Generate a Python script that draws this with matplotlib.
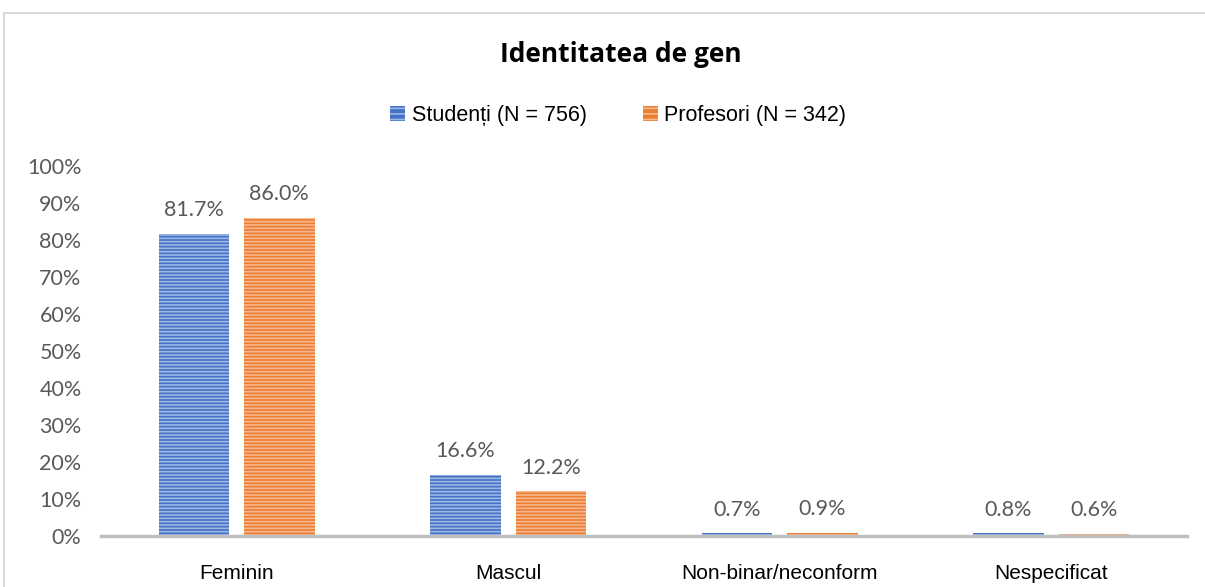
import matplotlib
matplotlib.use('Agg')
import matplotlib.pyplot as plt
from matplotlib.patches import Rectangle, Patch
import numpy as np

categories = ['Feminin', 'Mascul', 'Non-binar/neconform', 'Nespecificat']
studenti = [81.7, 16.6, 0.7, 0.8]
profesori = [86.0, 12.2, 0.9, 0.6]
series_names = ['Studenți (N = 756)', 'Profesori (N = 342)']
yticks = np.arange(0, 101, 10)

blue, orange = '#4472C4', '#ED7D31'
plt.rcParams['hatch.linewidth'] = 1.2

fig = plt.figure(figsize=(12.05, 5.87), dpi=100)
ax = fig.add_axes([0.0838, 0.0869, 0.9012, 0.6303])

# outer chart frame
fig.patches.append(Rectangle((4 / 1205, -0.05), 1.1, 1 - 13 / 587 + 0.05,
                             transform=fig.transFigure, fill=False,
                             edgecolor='#d9d9d9', linewidth=1.5))

x = np.arange(len(categories))
w = 0.26
off = 0.157
b1 = ax.bar(x - off, studenti, w, color=blue, edgecolor='#9db7e6',
            hatch='-----', linewidth=0)
b2 = ax.bar(x + off, profesori, w, color=orange, edgecolor='#f7b88f',
            hatch='-----', linewidth=0)

for bars, vals in ((b1, studenti), (b2, profesori)):
    for rect, v in zip(bars, vals):
        ax.text(rect.get_x() + rect.get_width() / 2, v + 3.6, f'{v:.1f}%',
                ha='center', va='bottom', fontsize=15.5, color='#595959',
                family='Lato')

ax.set_xlim(-0.5, len(categories) - 0.5)
ax.set_ylim(0, 100)
ax.set_yticks(yticks)
ax.set_yticklabels([f'{t}%' for t in yticks], fontsize=15.5, color='#595959',
                   family='Lato')
ax.set_xticks(x)
ax.set_xticklabels(categories, fontsize=15, family='Liberation Sans')
ax.tick_params(axis='x', length=0, pad=20)
ax.tick_params(axis='y', length=0, pad=14)
for s in ['top', 'right', 'left']:
    ax.spines[s].set_visible(False)
ax.spines['bottom'].set_color('#bfbfbf')
ax.spines['bottom'].set_linewidth(2.5)

fig.text(0.515, 1 - 55 / 587, 'Identitatea de gen', ha='center', va='center',
         fontsize=19, fontweight='bold', family='Open Sans')

handles = [Patch(facecolor=blue, edgecolor='#9db7e6', hatch='---', linewidth=0),
           Patch(facecolor=orange, edgecolor='#f7b88f', hatch='---', linewidth=0)]
fig.legend(handles, series_names, loc='center', bbox_to_anchor=(0.513, 1 - 116 / 587),
           ncol=2, frameon=False, prop={'family': 'Liberation Sans', 'size': 15.5},
           handlelength=0.7, handleheight=0.7, handletextpad=0.3, columnspacing=2.6)

fig.savefig('out.png', dpi=100)
